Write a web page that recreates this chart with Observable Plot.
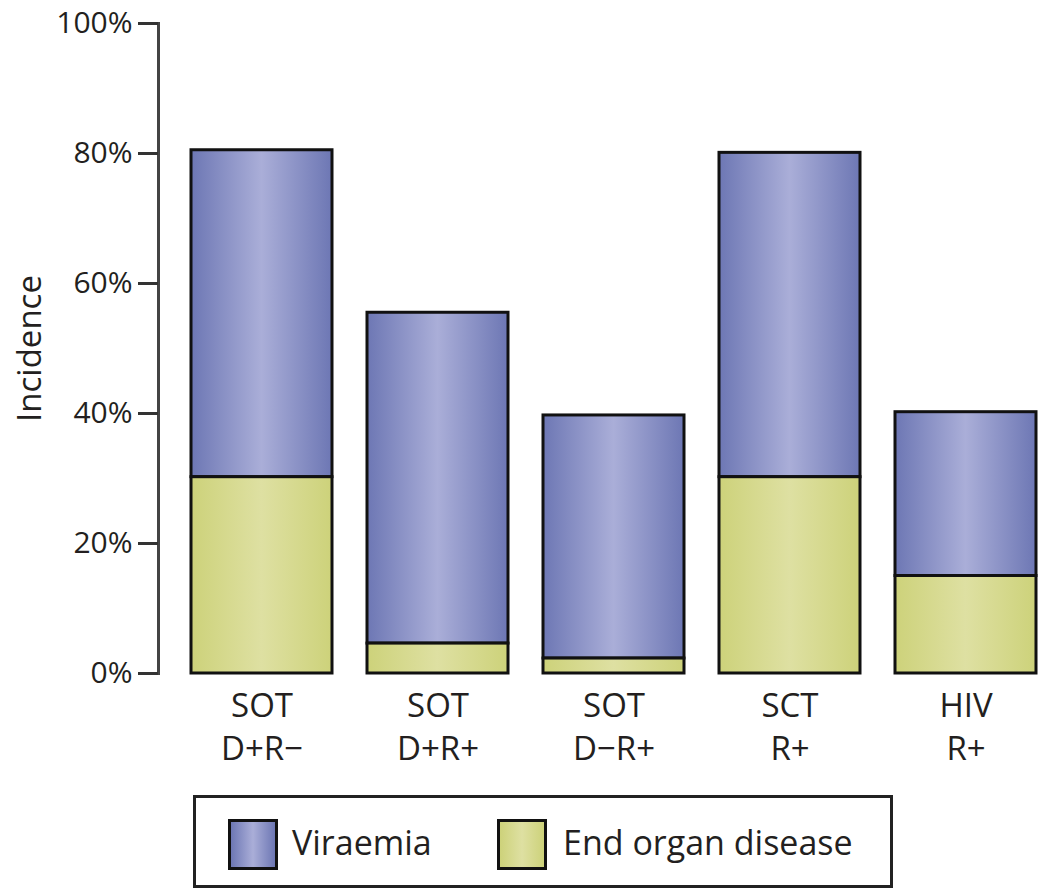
<!DOCTYPE html>
<html>
<head>
<meta charset="utf-8">
<script src="https://cdn.jsdelivr.net/npm/d3@7"></script>
<script src="https://cdn.jsdelivr.net/npm/@observablehq/plot@0.6"></script>
<style>
  html, body { margin: 0; padding: 0; background: #fff; }
  body { width: 1038px; height: 893px; position: relative; font-family: "Open Sans", sans-serif; color: #231f20; overflow: hidden; }
  #chart { position: absolute; left: 0; top: -10px; }
  #legend { position: absolute; left: 193px; top: 795px; width: 694px; height: 87px; border: 3px solid #222; box-sizing: content-box; }
  .sw { position: absolute; top: 21px; width: 44px; height: 45px; border: 3px solid #111; }
  .lab { position: absolute; top: 24px; font-size: 34px; line-height: 40px; }
</style>
</head>
<body>
<div id="chart"></div>
<div id="legend">
  <div class="sw" style="left:32px;background:linear-gradient(to right,#6d77b4,#aaaed8 50%,#6d77b4);"></div>
  <div class="lab" style="left:96px;">Viraemia</div>
  <div class="sw" style="left:301px;background:linear-gradient(to right,#cdd27a,#dee0a2 50%,#cdd27a);"></div>
  <div class="lab" style="left:367px;">End organ disease</div>
</div>
<script>
const groups = ["SOT\nD+R−", "SOT\nD+R+", "SOT\nD−R+", "SCT\nR+", "HIV\nR+"];
const viraemia = [80.5, 55.5, 39.7, 80.1, 40.2];
const endOrganDisease = [30.2, 4.6, 2.3, 30.2, 15.0];
const yTicks = [0, 20, 40, 60, 80, 100];

const rows = groups.map((g, i) => ({group: g, total: viraemia[i], eod: endOrganDisease[i]}));

const plot = Plot.plot({
  width: 1038,
  height: 795,
  marginTop: 33,
  marginBottom: 112,
  marginLeft: 158,
  marginRight: 0,
  style: {fontFamily: "Open Sans, sans-serif", color: "#231f20", background: "transparent", overflow: "visible"},
  x: {domain: groups, paddingInner: 0.2, paddingOuter: 0.086, align: 0.95},
  y: {domain: [0, 100]},
  marks: [
    Plot.barY(rows, {x: "group", y1: "eod", y2: "total", fill: "url(#gBlue)", stroke: "#111", strokeWidth: 3}),
    Plot.barY(rows, {x: "group", y1: 0, y2: "eod", fill: "url(#gYellow)", stroke: "#111", strokeWidth: 3}),
    Plot.frame({anchor: "left", stroke: "#444", strokeWidth: 3}),
    Plot.axisY({ticks: yTicks, tickFormat: d => d + "%", tickSize: 20, tickPadding: 6, fontSize: 30, stroke: "#333", strokeWidth: 3,
      label: "Incidence", labelAnchor: "center", labelArrow: "none", labelOffset: 141}),
    Plot.axisX({tickSize: 0, tickPadding: 13, fontSize: 33, lineHeight: 1.3, label: null})
  ]
});

const ns = "http://www.w3.org/2000/svg";
const defs = document.createElementNS(ns, "defs");
function grad(id, edge, mid) {
  const g = document.createElementNS(ns, "linearGradient");
  g.setAttribute("id", id);
  g.setAttribute("x1", "0"); g.setAttribute("x2", "1"); g.setAttribute("y1", "0"); g.setAttribute("y2", "0");
  [[0, edge], [0.5, mid], [1, edge]].forEach(([o, c]) => {
    const s = document.createElementNS(ns, "stop");
    s.setAttribute("offset", o); s.setAttribute("stop-color", c);
    g.appendChild(s);
  });
  defs.appendChild(g);
}
grad("gBlue", "#6d77b4", "#aaaed8");
grad("gYellow", "#cdd27a", "#dee0a2");
plot.insertBefore(defs, plot.firstChild);
plot.querySelectorAll("[aria-label='y-axis label'] text").forEach(t => t.setAttribute("font-size", 33));
document.getElementById("chart").appendChild(plot);
</script>
</body>
</html>
